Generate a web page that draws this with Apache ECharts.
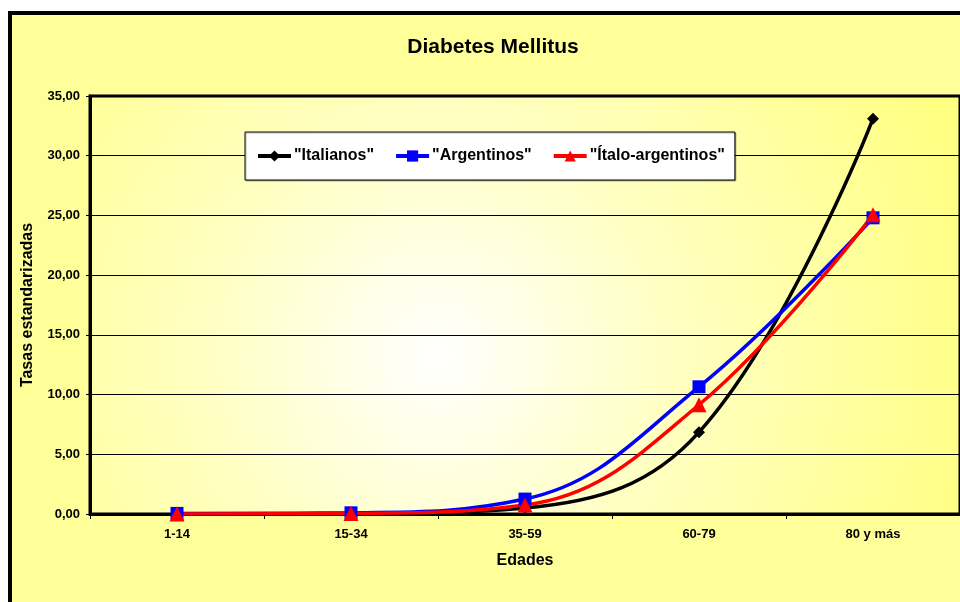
<!DOCTYPE html>
<html>
<head>
<meta charset="utf-8">
<script src="https://cdn.jsdelivr.net/npm/echarts@6/dist/echarts.min.js"></script>
<style>
html,body{margin:0;padding:0;background:#fff;}
#c{width:960px;height:602px;}
</style>
</head>
<body>
<div id="c"></div>
<script>
const categories = ['1-14', '15-34', '35-59', '60-79', '80 y más'];
const italianos = [0.0, 0.02, 0.5, 6.85, 33.1];
const argentinos = [0.05, 0.1, 1.25, 10.65, 24.8];
const italoArgentinos = [0.0, 0.05, 0.75, 9.15, 25.05];
const yTicks = { min: 0, max: 35, interval: 5 };

const chart = echarts.init(document.getElementById('c'), null, { renderer: 'canvas' });
const FONT = 'Liberation Sans, Arial, sans-serif';

function mkSeries(name, data, color, symbol, size) {
  return {
    name: name,
    type: 'line',
    data: data,
    smooth: 0.4,
    symbol: symbol,
    symbolSize: size,
    lineStyle: { color: color, width: 3.5 },
    itemStyle: { color: color },
    z: 3
  };
}

chart.setOption({
  backgroundColor: '#ffffff',
  animation: false,
  graphic: [{
    type: 'rect',
    z: -10,
    shape: { x: 10, y: 13, width: 1000, height: 700 },
    style: { fill: '#FFFF99', stroke: '#000', lineWidth: 4 }
  }],
  title: {
    text: 'Diabetes Mellitus',
    left: 488, top: 32, textAlign: 'center',
    textStyle: { fontFamily: FONT, fontWeight: 'bold', fontSize: 21, color: '#000' }
  },
  legend: {
    left: 245, top: 132,
    padding: [16, 10, 16, 11],
    backgroundColor: '#fff',
    borderColor: '#000', borderWidth: 1,
    shadowColor: 'rgba(0,0,0,0.3)', shadowOffsetX: 1, shadowOffsetY: 1, shadowBlur: 0,
    itemWidth: 33, itemHeight: 14, itemGap: 20,
    lineStyle: { width: 4 },
    textStyle: { fontFamily: FONT, fontWeight: 'bold', fontSize: 16, color: '#000', padding: [0, 0, 0, -2] },
    data: ['"Italianos"', '"Argentinos"', '"Ítalo-argentinos"']
  },
  grid: {
    left: 90, top: 96, width: 873, height: 418,
    show: true,
    borderColor: '#000', borderWidth: 3,
    backgroundColor: {
      type: 'radial', x: 0.4, y: 0.62, r: 1.35,
      colorStops: [
        { offset: 0, color: '#FFFFFF' },
        { offset: 0.4, color: '#FFFFC4' },
        { offset: 1, color: '#FFFF80' }
      ]
    }
  },
  xAxis: {
    type: 'category',
    data: categories,
    boundaryGap: true,
    name: 'Edades',
    nameLocation: 'middle',
    nameGap: 39,
    nameTextStyle: { fontFamily: FONT, fontWeight: 'bold', fontSize: 16, color: '#000' },
    axisLine: { lineStyle: { color: '#000', width: 3 } },
    axisTick: { show: true, length: 5, lineStyle: { color: '#000', width: 1 } },
    axisLabel: { fontFamily: FONT, fontWeight: 'bold', fontSize: 13, color: '#000', margin: 14 },
    splitLine: { show: false }
  },
  yAxis: {
    type: 'value',
    min: yTicks.min, max: yTicks.max, interval: yTicks.interval,
    name: 'Tasas estandarizadas',
    nameLocation: 'middle',
    nameGap: 54,
    nameTextStyle: { fontFamily: FONT, fontWeight: 'bold', fontSize: 16, color: '#000' },
    axisLine: { show: true, lineStyle: { color: '#000', width: 3 } },
    axisTick: { show: true, length: 4, lineStyle: { color: '#000', width: 1 } },
    axisLabel: {
      fontFamily: FONT, fontWeight: 'bold', fontSize: 13, color: '#000', margin: 10,
      formatter: v => v.toFixed(2).replace('.', ',')
    },
    splitLine: { show: true, lineStyle: { color: '#000', width: 1 } }
  },
  series: [
    mkSeries('"Italianos"', italianos, '#000000', 'diamond', 12),
    mkSeries('"Argentinos"', argentinos, '#0000FF', 'rect', 13),
    mkSeries('"Ítalo-argentinos"', italoArgentinos, '#FF0000', 'triangle', 15)
  ]
});
</script>
</body>
</html>
